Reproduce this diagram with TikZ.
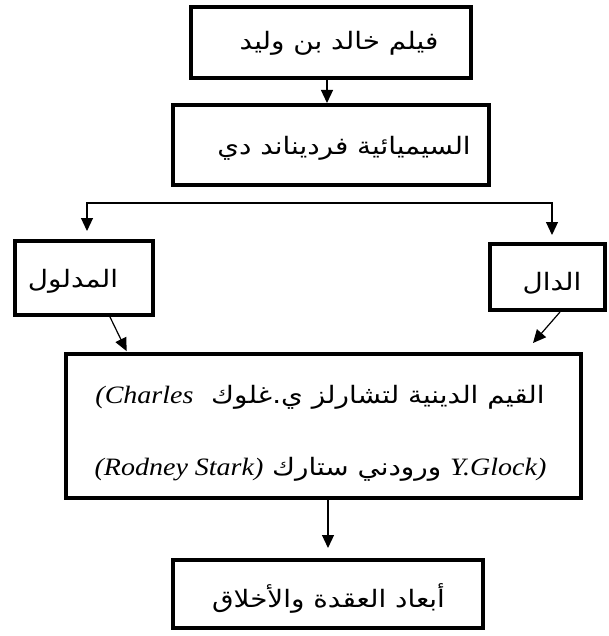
\documentclass[tikz,border=0pt]{standalone}
\usepackage{fontspec}
\setmainfont{Liberation Serif}
\newfontfamily\ar[Script=Arabic,FakeStretch=1.16]{DejaVu Sans}
\newfontfamily\lat[FakeStretch=1.12]{Liberation Serif}
\TeXXeTstate=1
\usetikzlibrary{arrows.meta}
\newcommand\latit[1]{{\lat\itshape\fontsize{25}{29}\selectfont #1}}
\begin{document}
\begin{tikzpicture}[x=1pt,y=-1pt,
  boxnode/.style={draw, line width=4pt, rectangle, inner sep=0pt},
  txt/.style={inner sep=0pt, font=\ar\fontsize{24}{28}\selectfont},
  arr/.style={line width=1.2pt, -{Triangle[length=13pt,width=12pt]}}]
\useasboundingbox (0,0) rectangle (608,636);
\clip (0,0) rectangle (608,636);
% boxes
\node[boxnode, minimum width=280pt, minimum height=71pt] (film) at (331,42.5) {};
\node[boxnode, minimum width=316pt, minimum height=80pt] (semio) at (331,145) {};
\node[boxnode, minimum width=138pt, minimum height=74pt] (madlul) at (84,278) {};
\node[boxnode, minimum width=115pt, minimum height=66pt] (dal) at (547.5,277) {};
\node[boxnode, minimum width=515pt, minimum height=144pt] (values) at (323.5,426) {};
\node[boxnode, minimum width=310pt, minimum height=68pt] (dims) at (328,594) {};
% texts
\node[txt] (filmT) at (339,43) {\beginR فيلم خالد بن وليد\endR};
\node[txt] (semioT) at (344,148) {\beginR السيميائية فرديناند دي\endR};
\node[txt] (madlulT) at (73,281) {\beginR المدلول\endR};
\node[txt] (dalT) at (552,283) {\beginR الدال\endR};
\node[txt] (valuesA) at (320,397) {\latit{(Charles}\ \ \beginR القيم الدينية لتشارلز ي.غلوك\endR};
\node[txt] (valuesB) at (320.5,469) {\latit{(Rodney Stark)}\ \beginR ورودني ستارك\endR\ \latit{Y.Glock)}};
\node[txt] (dimsT) at (328.5,598) {\beginR أبعاد العقدة والأخلاق\endR};
% connectors
\coordinate (sL) at (87,203);
\coordinate (sR) at (552,203);
\coordinate (lx) at (127,0);
\coordinate (rx) at (533,0);
\draw[arr] ([xshift=-4pt]film.south) -- ([xshift=-4pt]film.south |- semio.north);
\draw[arr, shorten >=8pt] (sR) -- (sL) -- (sL |- madlul.north);
\draw[arr, shorten >=7pt] (sL) -- (sR) -- (sR |- dal.north);
\draw[arr, shorten >=1pt] ([xshift=26pt]madlul.south) -- (values.north -| lx);
\draw[arr] (dal.south -| 560,0) -- ([yshift=9pt]values.north -| rx);
\draw[arr, shorten >=10pt] ([xshift=4.5pt]values.south) -- ([xshift=4.5pt]values.south |- dims.north);
\end{tikzpicture}
\end{document}
